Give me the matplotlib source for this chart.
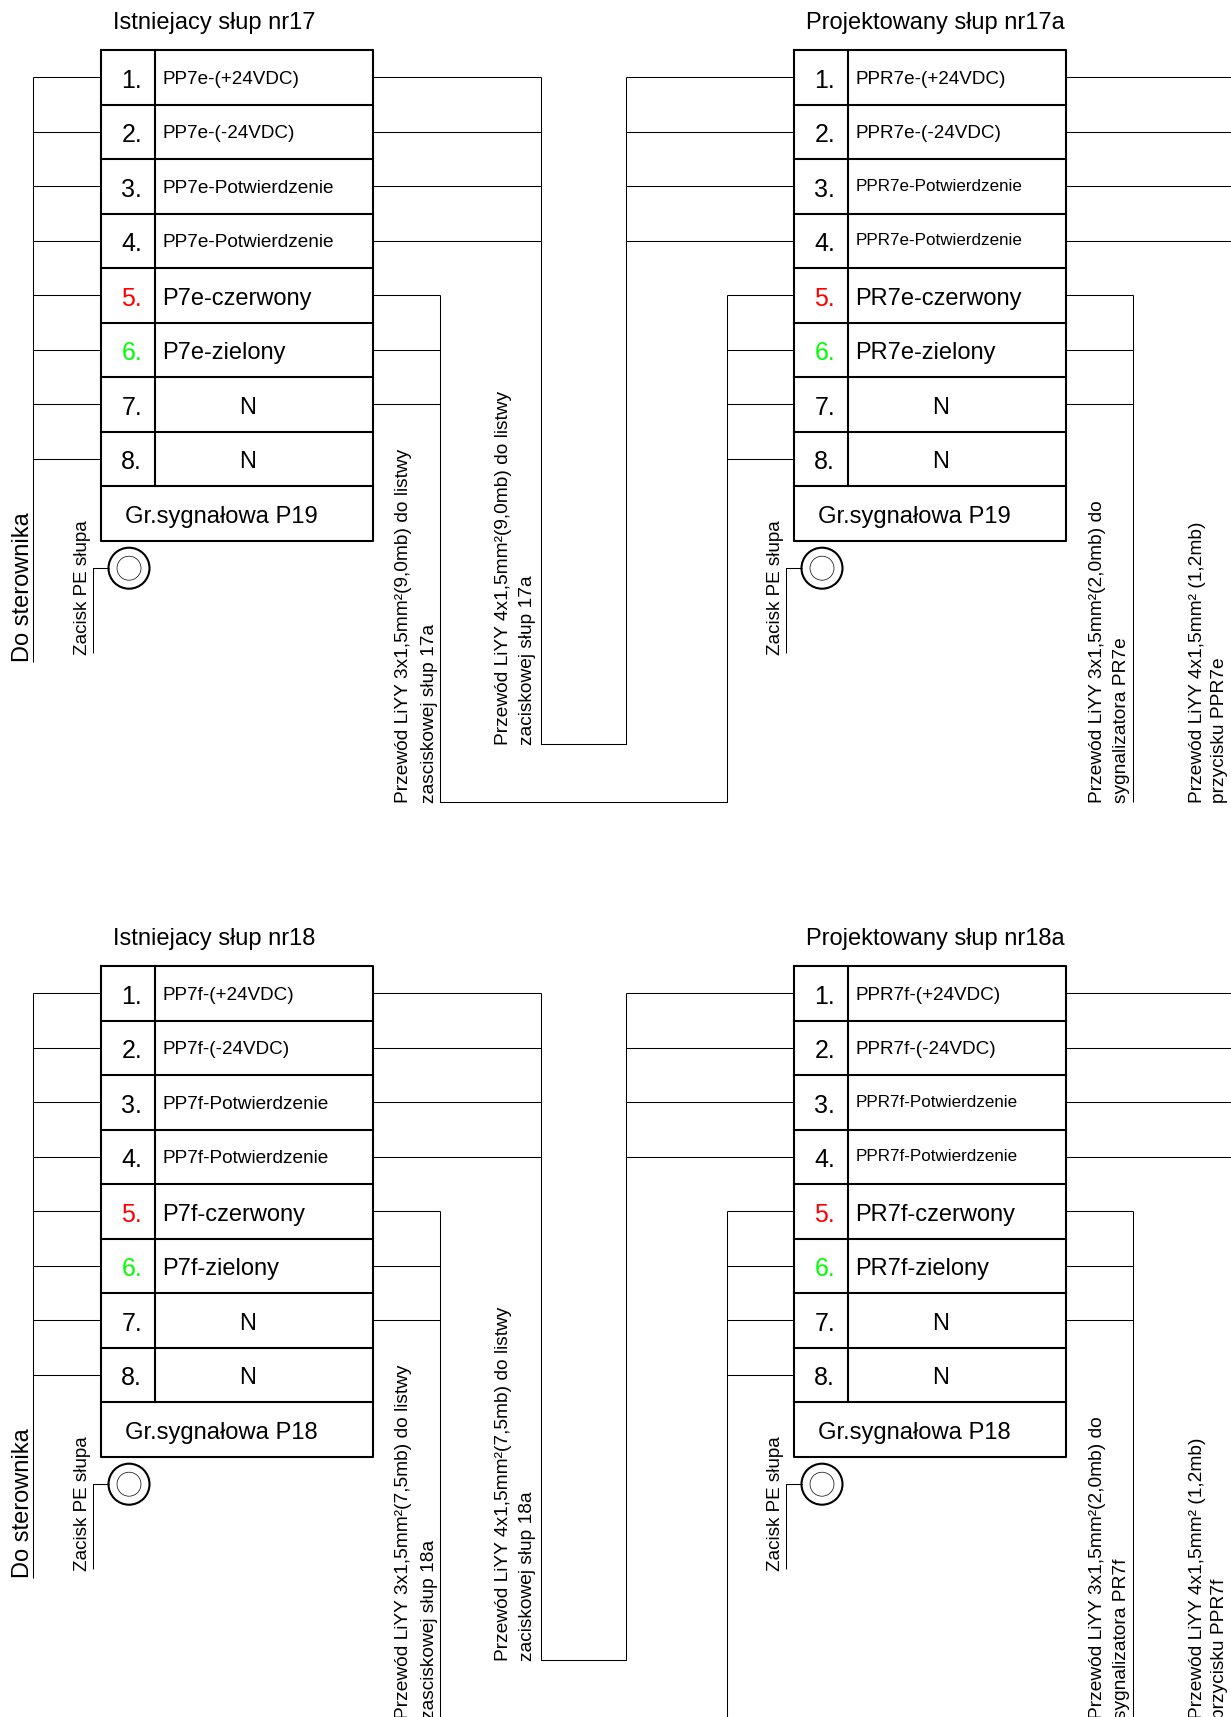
import matplotlib
matplotlib.use('Agg')
import matplotlib.pyplot as plt
from matplotlib.patches import Circle

plt.rcParams['font.family'] = ['Liberation Sans', 'DejaVu Sans']

# row numbers and their colours
row_numbers = ['1.', '2.', '3.', '4.', '5.', '6.', '7.', '8.']
number_colors = ['black', 'black', 'black', 'black', '#ff0000', '#00ff00', 'black', 'black']

# panel contents
titles_left = ['Istniejacy słup nr17', 'Istniejacy słup nr18']
titles_right = ['Projektowany słup nr17a', 'Projektowany słup nr18a']
rows_left = [
    ['PP7e-(+24VDC)', 'PP7e-(-24VDC)', 'PP7e-Potwierdzenie', 'PP7e-Potwierdzenie',
     'P7e-czerwony', 'P7e-zielony', 'N', 'N'],
    ['PP7f-(+24VDC)', 'PP7f-(-24VDC)', 'PP7f-Potwierdzenie', 'PP7f-Potwierdzenie',
     'P7f-czerwony', 'P7f-zielony', 'N', 'N'],
]
rows_right = [
    ['PPR7e-(+24VDC)', 'PPR7e-(-24VDC)', 'PPR7e-Potwierdzenie', 'PPR7e-Potwierdzenie',
     'PR7e-czerwony', 'PR7e-zielony', 'N', 'N'],
    ['PPR7f-(+24VDC)', 'PPR7f-(-24VDC)', 'PPR7f-Potwierdzenie', 'PPR7f-Potwierdzenie',
     'PR7f-czerwony', 'PR7f-zielony', 'N', 'N'],
]
groups = ['Gr.sygnałowa P19', 'Gr.sygnałowa P18']
cable_3x = [
    ['Przewód LiYY 3x1,5mm²(9,0mb) do listwy', 'zasciskowej słup 17a'],
    ['Przewód LiYY 3x1,5mm²(7,5mb) do listwy', 'zasciskowej słup 18a'],
]
cable_4x = [
    ['Przewód LiYY 4x1,5mm²(9,0mb) do listwy', 'zaciskowej słup 17a'],
    ['Przewód LiYY 4x1,5mm²(7,5mb) do listwy', 'zaciskowej słup 18a'],
]
cable_sig = [
    ['Przewód LiYY 3x1,5mm²(2,0mb) do', 'sygnalizatora PR7e'],
    ['Przewód LiYY 3x1,5mm²(2,0mb) do', 'sygnalizatora PR7f'],
]
cable_btn = [
    ['Przewód LiYY 4x1,5mm² (1,2mb)', 'przycisku PPR7e'],
    ['Przewód LiYY 4x1,5mm² (1,2mb)', 'przycisku PPR7f'],
]

fig = plt.figure(figsize=(12.31, 17.17), dpi=100)
ax = fig.add_axes([0, 0, 1, 1])
ax.set_xlim(0, 1231)
ax.set_ylim(1717, 0)
ax.axis('off')

TOP = 50.2
ROW_H = 54.5
WIRE = 0.75
BOX = 1.5
CABLE_FONT = 13.75


def wire(xs, ys):
    ax.plot(xs, ys, color='black', lw=WIRE, solid_capstyle='butt')


def vtext(x, y, s, size):
    ax.text(x, y, s, rotation=90, ha='center', va='bottom', fontsize=size, color='black')


def row_size(label, second_block):
    if 'Potwierdzenie' in label:
        return 12.25 if second_block else 13.65
    if '24VDC' in label:
        return 13.6
    return 17.05


def block(x0, dy, title, rows, group, second_block):
    x1, x2 = x0 + 54.6, x0 + 272.5
    top = TOP + dy
    bottom = top + 9 * ROW_H
    ax.text(x0 + 12.5, top - 27, title, fontsize=17.05, va='center', ha='left')
    # frame and row separators
    ax.plot([x0, x2, x2, x0, x0], [top, top, bottom, bottom, top], color='black', lw=BOX)
    for i in range(1, 9):
        ax.plot([x0, x2], [top + i * ROW_H] * 2, color='black', lw=BOX)
    ax.plot([x1, x1], [top, top + 8 * ROW_H], color='black', lw=BOX)
    for i, label in enumerate(rows):
        yc = top + (i + 0.5) * ROW_H
        ax.text(x0 + 20.5, yc + 3.5, row_numbers[i], color=number_colors[i], fontsize=18,
                va='center', ha='left')
        if label == 'N':
            ax.text(x0 + 147, yc + 3.5, label, fontsize=17, va='center', ha='center')
        else:
            size = row_size(label, second_block)
            if size > 17:
                off = 3.5
            elif size < 13:
                off = 0
            else:
                off = 2
            ax.text(x1 + 7, yc + off, label, fontsize=size, va='center', ha='left')
    ax.text(x0 + 24.5, top + 8.5 * ROW_H + 3.5, group, fontsize=17.1, va='center', ha='left')
    # PE clamp
    cx, cy = x0 + 28.2, bottom + 27.5
    ax.add_patch(Circle((cx, cy), 20.5, fill=False, ec='black', lw=BOX))
    ax.add_patch(Circle((cx, cy), 12, fill=False, ec='black', lw=0.5))
    wire([cx - 20.5, x0 - 8, x0 - 8], [cy, cy, dy + 653])
    vtext(x0 - 18.5, dy + 655, 'Zacisk PE słupa', 13.55)


for p in range(2):
    dy = 916 * p
    yw = [TOP + dy + (i + 0.5) * ROW_H for i in range(8)]

    block(100.8, dy, titles_left[p], rows_left[p], groups[p], False)
    block(793.8, dy, titles_right[p], rows_right[p], groups[p], True)

    # controller bus on the far left
    for y in yw:
        wire([33.2, 100.4], [y, y])
    wire([33.2, 33.2], [yw[0], dy + 662])
    vtext(23, dy + 662, 'Do sterownika', 17)

    # four-core cable between the poles
    for y in yw[:4]:
        wire([372.9, 541], [y, y])
        wire([626.4, 793.4], [y, y])
        wire([1065.9, 1231], [y, y])
    wire([541, 541, 626.4, 626.4], [yw[0], dy + 744, dy + 744, yw[0]])

    # three-core cable between the poles
    for y in yw[4:7]:
        wire([372.9, 440], [y, y])
        wire([1065.9, 1133.2], [y, y])
    for y in yw[4:8]:
        wire([726.8, 793.4], [y, y])
    wire([440, 440, 726.8, 726.8], [yw[4], dy + 802, dy + 802, yw[4]])
    wire([1133.2, 1133.2], [yw[4], dy + 802])

    # cable descriptions
    vtext(404, dy + 803, cable_3x[p][0], CABLE_FONT)
    vtext(429, dy + 803, cable_3x[p][1], CABLE_FONT)
    vtext(504, dy + 745, cable_4x[p][0], CABLE_FONT)
    vtext(528, dy + 745, cable_4x[p][1], CABLE_FONT)
    vtext(1098, dy + 803, cable_sig[p][0], CABLE_FONT)
    vtext(1121, dy + 803, cable_sig[p][1], CABLE_FONT)
    vtext(1197, dy + 803, cable_btn[p][0], CABLE_FONT)
    vtext(1219, dy + 803, cable_btn[p][1], CABLE_FONT)

fig.savefig('out.png', dpi=100)
